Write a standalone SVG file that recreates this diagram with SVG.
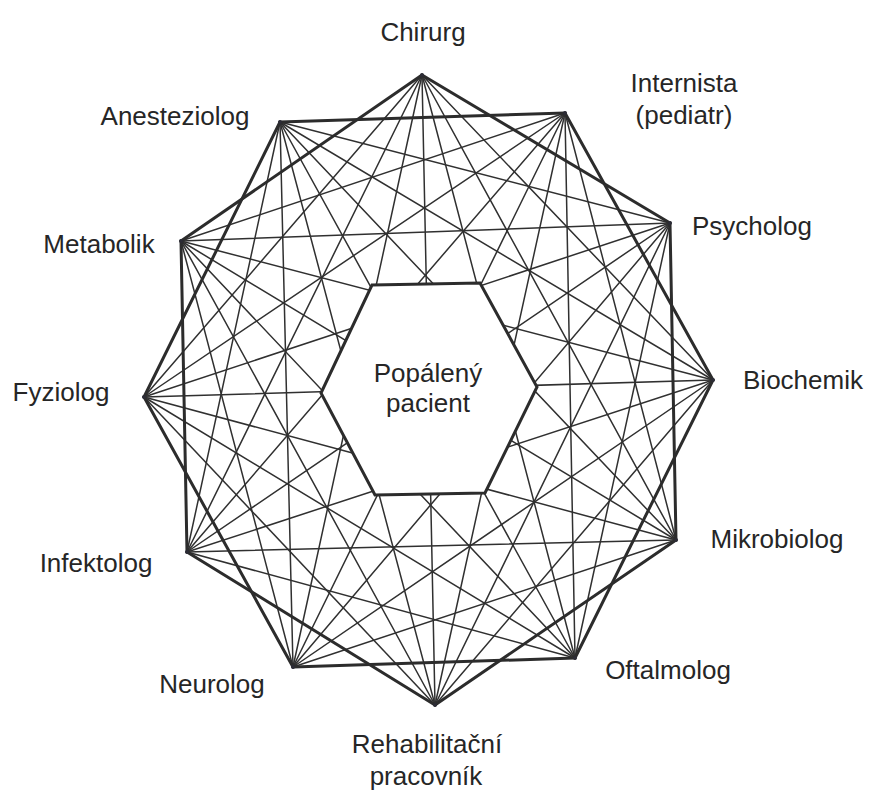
<svg xmlns="http://www.w3.org/2000/svg" width="872" height="790" viewBox="0 0 872 790">
<style>
  .thin{stroke:#303030;stroke-width:1.5;stroke-linecap:round;fill:none}
  .thick{stroke:#2c2c2c;stroke-width:3;stroke-linecap:round;fill:none}
  .lbl{font-family:"Liberation Sans",Arial,Helvetica,sans-serif;font-size:26px;fill:#262626;text-anchor:middle}
  .pt{fill:#2c2c36}
  .hex{fill:#ffffff;stroke:#2c2c2c;stroke-width:3;stroke-linejoin:miter}
</style>
<rect width="872" height="790" fill="#ffffff"/>
<g id="connectors">
  <!-- distance 3 -->
  <line class="thin" x1="422" y1="75" x2="713" y2="380"/>
  <line class="thin" x1="565" y1="113" x2="676" y2="540"/>
  <line class="thin" x1="670" y1="223" x2="575" y2="658"/>
  <line class="thin" x1="713" y1="380" x2="435" y2="705"/>
  <line class="thin" x1="676" y1="540" x2="293" y2="667"/>
  <line class="thin" x1="575" y1="658" x2="187" y2="552"/>
  <line class="thin" x1="435" y1="705" x2="144" y2="397"/>
  <line class="thin" x1="293" y1="667" x2="181" y2="241"/>
  <line class="thin" x1="187" y1="552" x2="280" y2="122"/>
  <line class="thin" x1="144" y1="397" x2="422" y2="75"/>
  <line class="thin" x1="181" y1="241" x2="565" y2="113"/>
  <line class="thin" x1="280" y1="122" x2="670" y2="223"/>
  <!-- distance 4 -->
  <line class="thin" x1="422" y1="75" x2="676" y2="540"/>
  <line class="thin" x1="565" y1="113" x2="575" y2="658"/>
  <line class="thin" x1="670" y1="223" x2="435" y2="705"/>
  <line class="thin" x1="713" y1="380" x2="293" y2="667"/>
  <line class="thin" x1="676" y1="540" x2="187" y2="552"/>
  <line class="thin" x1="575" y1="658" x2="144" y2="397"/>
  <line class="thin" x1="435" y1="705" x2="181" y2="241"/>
  <line class="thin" x1="293" y1="667" x2="280" y2="122"/>
  <line class="thin" x1="187" y1="552" x2="422" y2="75"/>
  <line class="thin" x1="144" y1="397" x2="565" y2="113"/>
  <line class="thin" x1="181" y1="241" x2="670" y2="223"/>
  <line class="thin" x1="280" y1="122" x2="713" y2="380"/>
  <!-- distance 5 -->
  <line class="thin" x1="422" y1="75" x2="575" y2="658"/>
  <line class="thin" x1="565" y1="113" x2="435" y2="705"/>
  <line class="thin" x1="670" y1="223" x2="293" y2="667"/>
  <line class="thin" x1="713" y1="380" x2="187" y2="552"/>
  <line class="thin" x1="676" y1="540" x2="144" y2="397"/>
  <line class="thin" x1="575" y1="658" x2="181" y2="241"/>
  <line class="thin" x1="435" y1="705" x2="280" y2="122"/>
  <line class="thin" x1="293" y1="667" x2="422" y2="75"/>
  <line class="thin" x1="187" y1="552" x2="565" y2="113"/>
  <line class="thin" x1="144" y1="397" x2="670" y2="223"/>
  <line class="thin" x1="181" y1="241" x2="713" y2="380"/>
  <line class="thin" x1="280" y1="122" x2="676" y2="540"/>
  <!-- distance 6 -->
  <line class="thin" x1="422" y1="75" x2="435" y2="705"/>
  <line class="thin" x1="565" y1="113" x2="293" y2="667"/>
  <line class="thin" x1="670" y1="223" x2="187" y2="552"/>
  <line class="thin" x1="713" y1="380" x2="144" y2="397"/>
  <line class="thin" x1="676" y1="540" x2="181" y2="241"/>
  <line class="thin" x1="575" y1="658" x2="280" y2="122"/>
  <!-- distance 2 (outer hexagons) -->
  <line class="thick" x1="422" y1="75" x2="670" y2="223"/>
  <line class="thick" x1="670" y1="223" x2="676" y2="540"/>
  <line class="thick" x1="676" y1="540" x2="435" y2="705"/>
  <line class="thick" x1="435" y1="705" x2="187" y2="552"/>
  <line class="thick" x1="187" y1="552" x2="181" y2="241"/>
  <line class="thick" x1="181" y1="241" x2="422" y2="75"/>
  <line class="thick" x1="565" y1="113" x2="713" y2="380"/>
  <line class="thick" x1="713" y1="380" x2="575" y2="658"/>
  <line class="thick" x1="575" y1="658" x2="293" y2="667"/>
  <line class="thick" x1="293" y1="667" x2="144" y2="397"/>
  <line class="thick" x1="144" y1="397" x2="280" y2="122"/>
  <line class="thick" x1="280" y1="122" x2="565" y2="113"/>
</g>
<g id="pacient">
  <polygon class="hex" points="372,285 480,283 537,387 485,493 375,495 321,393"/>
  <text class="lbl" x="428" y="382">Popálený</text>
  <text class="lbl" x="428" y="412">pacient</text>
</g>
<g id="chirurg"><circle class="pt" cx="422" cy="75" r="2"/><text class="lbl" x="423" y="41">Chirurg</text></g>
<g id="internista"><circle class="pt" cx="565" cy="113" r="2"/><text class="lbl" x="684" y="92">Internista</text><text class="lbl" x="684" y="124">(pediatr)</text></g>
<g id="psycholog"><circle class="pt" cx="670" cy="223" r="2"/><text class="lbl" x="752" y="235">Psycholog</text></g>
<g id="biochemik"><circle class="pt" cx="713" cy="380" r="2"/><text class="lbl" x="803" y="389">Biochemik</text></g>
<g id="mikrobiolog"><circle class="pt" cx="676" cy="540" r="2"/><text class="lbl" x="777" y="548">Mikrobiolog</text></g>
<g id="oftalmolog"><circle class="pt" cx="575" cy="658" r="2"/><text class="lbl" x="668" y="679">Oftalmolog</text></g>
<g id="rehabilitacni"><circle class="pt" cx="435" cy="705" r="2"/><text class="lbl" x="427" y="753">Rehabilitační</text><text class="lbl" x="426" y="785">pracovník</text></g>
<g id="neurolog"><circle class="pt" cx="293" cy="667" r="2"/><text class="lbl" x="212" y="693">Neurolog</text></g>
<g id="infektolog"><circle class="pt" cx="187" cy="552" r="2"/><text class="lbl" x="96" y="572">Infektolog</text></g>
<g id="fyziolog"><circle class="pt" cx="144" cy="397" r="2"/><text class="lbl" x="61" y="401">Fyziolog</text></g>
<g id="metabolik"><circle class="pt" cx="181" cy="241" r="2"/><text class="lbl" x="99" y="253">Metabolik</text></g>
<g id="anesteziolog"><circle class="pt" cx="280" cy="122" r="2"/><text class="lbl" x="175" y="125">Anesteziolog</text></g>
</svg>
